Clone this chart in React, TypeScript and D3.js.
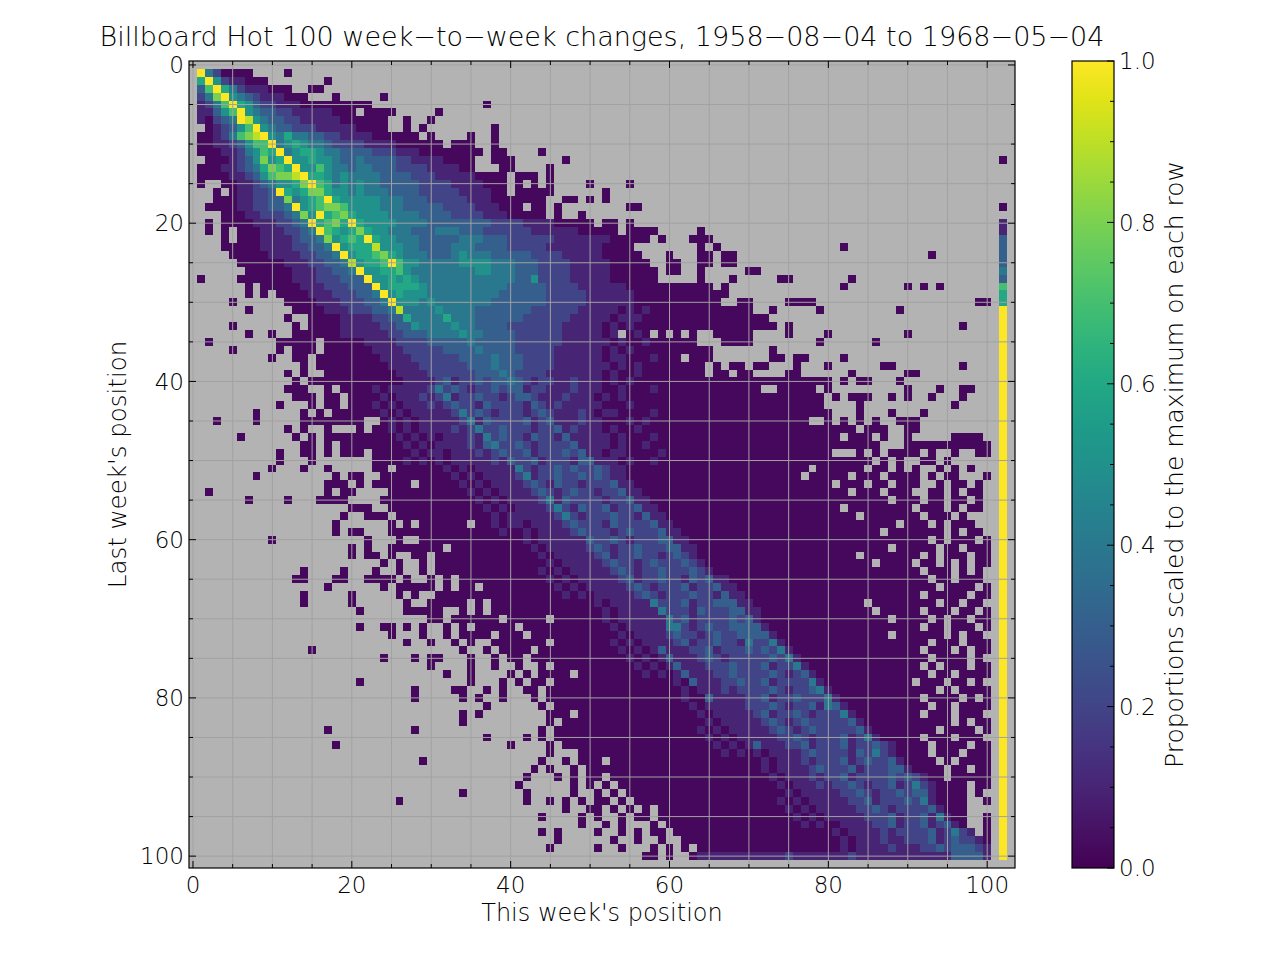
import React, { useMemo } from 'react';
import * as d3 from 'd3';

const title = 'Billboard Hot 100 week\u2212to\u2212week changes, 1958\u221208\u221204 to 1968\u221205\u221204';
const xLabel = "This week's position";
const yLabel = "Last week's position";
const colorbarLabel = 'Proportions scaled to the maximum on each row';

const xTicks = [0, 20, 40, 60, 80, 100];
const yTicks = [0, 20, 40, 60, 80, 100];
const colorTicks = [0, 0.2, 0.4, 0.6, 0.8, 1.0];

// value levels read off the colour of each cell ('.' = no song made that move)
const levelValues: Record<string, number> = {
  '0': 0.02, '1': 0.1, '2': 0.2, '3': 0.3, '4': 0.4, '5': 0.5,
  '6': 0.6, '7': 0.7, '8': 0.8, '9': 0.9, 'Y': 1.0,
};

// one string per last-week position 1..100, one char per this-week position 1..100
const transitionRows = [
  'Y420000... .0',
  '6Y5211000. ......0',
  '37Y6421110 00..00',
  '248Y543211 1000...0.. ...0',
  '1247Y65322 1110000000 00........ ......0',
  '11357Y5433 2211111000 .0000..... 0',
  '10234Y9543 3221111100 0000..0..0',
  '.012357Y54 3322211111 0000..0.0. .......0',
  '00124789Y5 4644332211 11000000.0 ....0..0',
  '001123577Y 4565443222 2111100000 0.000..0',
  '0001124576 Y456654433 3322211100 000000.00. ...0',
  '.000123585 6Y55655433 4333322111 10000..000 ......0',
  '0001123468 76Y5575443 4433322221 11100...00 ....0',
  '0000112357 889Y665454 4443333222 111110000. 000.0',
  '0..0011234 5568Y76454 5443333322 221111000. 0.0.0....0 ....0',
  '..0.011223 Y656886554 5444333322 222111100. 00000..... .0',
  '..00011223 384567Y655 5554443332 2222111000 0000..00.0 .0',
  '.000011223 34Y5678875 5554443333 3222211100 0.00.0.... ....00',
  '...0001122 23485Y6786 5555444433 3322221110 0000.0..0.',
  '.0.0000111 2234Y6786Y 6555544443 3333333222 2111100000 .00.0',
  '.0.0.00011 12234Y7656 8655444333 4443332222 2211111100 000.0000.. ...0',
  '...0.00011 1123348567 6Y65544433 3334443332 2222211111 1100000.0. ..000',
  '...0000011 1122334Y56 6695554433 3344433332 2222111111 10000..... ...0.0.... .......... .0',
  '....000001 11122334Y5 6678654443 3345444333 3322221111 100000...0 ...00.00.. .......... .......... ..0',
  '.....00000 0111223349 5667Y75544 4445555444 3332222111 1100000..0 0..00.00..',
  '......0000 0011122334 Y556675444 4444455444 3332222111 11000000.0 0..0.....0 0',
  '0....00000 0011122233 3Y55656544 4444444444 3352222111 11000000.. ...0...0.. ...00..... ..0',
  '......0.00 0001112223 33Y5666654 4444444443 3333222211 1111000000 00000.0... .......... .0.......0 .0.0',
  '......0.0. 0000111222 334Y565554 4444444433 3333222221 1111100000 0000000...',
  '....0..... .000011122 2334Y55545 4444444333 3333222221 1111100000 000000..00 ....0000.. .......... ........00',
  '......0... ..00001112 2233494444 5444433333 3322222211 1110101000 0000000000 ..0.....0. ........0.',
  '.......... .0..000011 1122336444 4644433333 3222222111 1101110000 0000000000 00',
  '....0..... ..0.000011 1112233544 4454433332 2222221111 1010100000 0000000000 000.0..... .......... ......0',
  '......0..0 ..00000011 1111223334 4445443333 2222221111 101.010.0. 0.0..00000 ....0....0 .........0',
  '.0........ 00000.0000 0111122223 3333433333 2222221111 1101001000 000...0000 ........0. .....0',
  '....0..... 0.000.0000 0011112222 2333343333 2222211111 1010100000 00000..... ..0',
  '.........0 ..00.00000 0001111222 2223333433 3222211111 1011000100 0.000..... ..00.00... .0',
  '.......... ...0.00000 0000111122 2222333433 3222211111 1101010000 0000.0.00. 00...0...0 ......00.. ......0',
  '.......... .0.0..0000 0000011112 2222233343 2222111111 1010010000 0000.00.00 ....00.... ..0......0 0',
  '.......... ..0.000000 0000001111 2312232334 3212211211 1010100000 0000000000 0000000000 .0.00...0.',
  '.......... .000..0.00 0010111112 4232122323 3122111211 1001000100 0000000000 0..00000.0 .........0 ...0..00',
  '.......... ..000.00.0 0001011121 2412232212 3321112111 0101000000 0000000000 000000000. 0.000..0.0 ..0...0',
  '.......... 0...0.00.0 0010101112 1232213222 2132121111 1000100000 0000000000 000000000. ...0...... .....0',
  '.......0.. ...0.0.000 0001010111 1124232122 2123211121 0110000100 0000000000 0000000000 ...0...0.. .0',
  '..0....0.. ...0000000 0..0101011 1112413222 2312311121 1000101000 0000000000 0000000..0 .0.0.0..00 0',
  '.......... .0.0..0... 0.00101011 1121242232 2212231211 1010010000 0000000000 0000000000 000.000..0 0',
  '.....0.... ..0.0.0000 0000010101 0111214232 2132213111 1101000100 0000000000 0000000000 0.000.0..0 .....0000',
  '.......... ...00.0.00 0000001010 1111213422 3212222311 1101001000 0000000000 0000000000 000000...0 0000000000',
  '.......... 0..00.0.00 0.00000101 1011121232 2312223231 1011000010 0000000000 0000000000 ...0.0.000 0.0..0..00',
  '.......... 0...0..... ..00001010 1011111213 2231222133 1110100100 0000000000 0000000000 00000.0.0. .00.0',
  '.........0 ...0..0... ..00.00000 0101011111 4212232322 3211000000 0000000000 0000000.00 0000.00.0. 0..0.0.0',
  '.......0.. .......0.0 0..0000000 0010101111 2412232232 3211000000 0000000000 000000.000 00.000.000 0.0.00...0',
  '.......... ......000. 0.00000.00 0001010111 1232132212 2231100000 0000000000 0000000000 .000.00.00 0..0.00.0',
  '.0........ ......0.00 ....000000 0000101011 1123212322 1223110000 0000000000 0000000000 00.000.000 ..00.0.00',
  '......0... .0...0000. ...0000000 0000010101 1112413222 2122311000 0000000000 0000000000 0000000.00 0.00.00.0',
  '.......... .........0 00..000000 0000001010 1111242132 2312231100 0000000000 0000000000 0.00000000 .000.0.00',
  '.......... ........0. .000.00000 0000000101 1111124212 2232213110 0000000000 0000000000 000.000000 0.000.0',
  '.......... .......0.. ....0.0.00 0000.00101 1011112322 2132222311 0000000000 0000000000 00000000.0 00.0.000',
  '.......... .......0.0 0...000000 0000000010 0101111232 2212322231 1000000000 0000000000 000000.000 0000.0.00',
  '.........0 .......... .0...0..00 0000000000 0101111113 2232122233 1100000000 0000000000 0000000000 00.0.000.0',
  '.......... .........0 .0..000000 0.00000000 0010111112 3212232223 3110000000 0000000000 0000000.00 000.00.000',
  '.......... .........0 .00.0..00. 0000000000 0001011111 2312232212 3210000000 0000000000 000.000000 0.0.000.00',
  '.......... .......... ...0.0..0. 0000000000 0000101111 1232212322 2321000000 0000000000 00000.0000 .00.0.0.00',
  '.......... ...0....0. ..0..0..0. 0000000000 0001010111 1123212232 2232100000 0000000000 0000000000 0.000.0.0',
  '.......... ..00...00. .0000.0..0 .0.0000000 0000101011 1112312232 2132311000 0000000000 0000000000 00.00.000',
  '.......... ......0... ...0.00000 .0.00.0000 0000010101 1111232122 2312231100 0000000000 0000000000 000.0000.0',
  '.......... ...0.....0 .....0.0.. 0000000000 0000001010 1111123212 2232213110 0000000000 0000000000 0.00000.00',
  '.......... ...0.....0 ......0..0 0000.0.000 0000000000 1011111422 2312233311 0000000000 0000.00000 000.00.00',
  '.......... .......... 0.....0000 0..0.0.000 0000000000 0101111142 2213222331 1000000000 00000.0000 0.000.00.0',
  '.......... .......... .........0 0.000000.0 0000.00000 0101111114 2312222323 1000000000 0000000.00 00.0.00.00',
  '.......... .......... 0..00.0.0. .0.0.00000 .000000000 0010111114 4212322333 3100000000 0000000000 0.00.000.0',
  '.......... .......... ....0...0. .0.0000.00 0.00000000 0001011112 3221232233 3310000000 0000000.00 0000.0.00',
  '.......... .......... ......0..0 ..0.0..000 0000.00000 0010101111 2312232214 2241000000 0000000000 00.000.000',
  '.......... ....0..... .......... ...0..0.00 00.0000000 0001010131 1122312223 2324100000 0000000000 0.000.0.00',
  '.......... .......... ...0...0.0 0...0..0.0 0.00000000 0000101013 1112321222 2232410000 0000000000 00.0000.0',
  '.......... .......... .........0 ....0..0.. 0..0.00000 0000010101 3111222322 2312241000 0000000000 0.0.000.00',
  '.......... .......... .......... .0..0....0 .0.0000.00 0000001010 1311122322 2232123100 0000000000 00.00.0000',
  '.......... .......... 0......... ....0...0. 0.00.00000 0000000000 1031112232 2312222410 0000000000 .000.00.0',
  '.......... .......... .......0.. ..00..0.0. .00.000000 0000000000 0101112122 2232122341 0000000000 000.0.0000',
  '.......... .......... .......0.. ...0.0..0. ..0.000000 0000000000 0100311112 2312232224 1000000000 0.0000.0.0',
  '.......... .......... .......... ......0... ...0.00000 0000000000 0010111112 2232122314 3100000000 00.00.0000',
  '.......... .......... .......... ...0.0.... ....000.00 0000000000 0001011111 2312232122 2410000000 0.000.000',
  '.......... .......... .......... ...0...... ....0.0000 0000000000 0000101111 1232123222 2231000000 00000.0.00',
  '.......... ......0... .......0.. .......... ...0.00000 0000000000 0001010111 1123212322 2223100000 000.0000.0',
  '.......... .......... .......... ......0... .0.0.00000 0000000000 0000101011 1112232122 2312410000 0.000.000',
  '.......... .......0.. .......... .........0 ....0.0000 0000000000 0000010101 3111223122 2312232100 00.0000.00',
  '.......... .......... .......... .......... ....0...00 0000000000 0000001010 1011112322 2213242100 00.000.000',
  '.......... .......... ........0. .......... ...0..0.00 0.00000000 0000000000 0101112122 2312322310 000.0.0000',
  '.......... .......... .......... .......... ..0.0..0.0 0000000000 0000000000 0101111232 2231222331 0000.00.00',
  '.......... .......... .......... .......... .0...0.0.0 0.00000000 0000000000 0010111212 2312222323 2100.00000',
  '.......... .......... .......... .......... 0......0.0 .0.0000000 0000000000 0001011121 2232122312 4210000.00',
  '.......... .......... .......... ...0...... .0.....0.. 0.0.000000 0000000000 0000101111 1223212232 3310000.0',
  '.......... .......... .....0.... .......... .0..0.0.0. 00.0.00000 0000000000 0001010111 1122312223 2410000..0',
  '.......... .......... .......... .......... ......0..0 0.0.0.0.00 0000000000 0000101011 1112232122 2231000',
  '.......... .......... .......... .......... ...0....0. 0..0.00.00 0000000000 0000010101 1111222312 2314100..0',
  '.......... .......... .......... .......... ........0. .0.0...0.0 0000000000 0000001010 0111122312 2312310..0',
  '.......... .......... .......... .......... ...0.0.... 0..0.0.00. 0000000000 0000000000 1011112122 22312421.0',
  '.......... .......... .......... .......... .....0.... ..0..0..0. .000000000 0000000000 0101112112 2231232210',
  '.......... .......... .......... .......... ....0..... 0..0...0.0 .0.0000000 0000000000 0101111211 1223233321',
  '.......... .......... .......... .......... .......... ......00.0 ..01111111 1111211111 1121111111 1111133331',
];

// column 102 (dropped off the chart), one char per last-week position 1..100
const dropoutColumn =
  '.......... .0.....0.1 1333343766 YYYYYYYYYY YYYYYYYYYY YYYYYYYYYY YYYYYYYYYY YYYYYYYYYY YYYYYYYYYY YYYYYYYYYY';

const DROPOUT_POS = 102;

interface Cell { r: number; c: number; v: number; }

const FONT = "'DejaVu Sans', Lato, sans-serif";

const App: React.FC = () => {
  const plot = { left: 189, right: 1015, top: 61, bottom: 868 };
  const cbar = { left: 1072, right: 1114, top: 61, bottom: 868 };

  const x = d3.scaleLinear().domain([-0.5, 103.5]).range([plot.left, plot.right]);
  const y = d3.scaleLinear().domain([-0.5, 101.5]).range([plot.top, plot.bottom]);
  const cy = d3.scaleLinear().domain([0, 1]).range([cbar.bottom, cbar.top]);

  const cells = useMemo(() => {
    const out: Cell[] = [];
    const drop = dropoutColumn.replace(/ /g, '');
    transitionRows.forEach((row, i) => {
      const s = row.replace(/ /g, '').padEnd(100, '.').slice(0, 100);
      for (let j = 0; j < 100; j++) {
        const v = levelValues[s[j]];
        if (v !== undefined) out.push({ r: i + 1, c: j + 1, v });
      }
      const dv = levelValues[drop[i]];
      if (dv !== undefined) out.push({ r: i + 1, c: DROPOUT_POS, v: dv });
    });
    return out;
  }, []);

  const gridVals = d3.range(0, 101, 5);
  const minorVals = gridVals.filter(v => v % 20 !== 0);
  const cbMinor = d3.range(0, 1.0001, 0.05).filter(v => Math.abs(v * 5 - Math.round(v * 5)) > 1e-6);
  const gradStops = d3.range(0, 1.0001, 0.05);

  const majorLen = 7;
  const minorLen = 4;
  const midX = (plot.left + plot.right) / 2;
  const midY = (plot.top + plot.bottom) / 2;

  return (
    <svg
      width={1280}
      height={960}
      style={{ position: 'absolute', left: 0, top: 0, display: 'block' }}
      fontFamily={FONT}
      fontWeight={300}
    >
      <defs>
        <linearGradient id="viridisBar" x1="0" y1="0" x2="0" y2="1">
          {gradStops.map(t => (
            <stop key={t} offset={`${t * 100}%`} stopColor={d3.interpolateViridis(1 - t)} />
          ))}
        </linearGradient>
      </defs>

      <rect x={0} y={0} width={1280} height={960} fill="#fff" />

      {/* heatmap */}
      <rect x={plot.left} y={plot.top} width={plot.right - plot.left} height={plot.bottom - plot.top} fill="#b3b3b3" />
      <g shapeRendering="crispEdges">
        {cells.map(d => (
          <rect
            key={`${d.r}-${d.c}`}
            x={x(d.c - 0.5)}
            y={y(d.r - 0.5)}
            width={x(d.c + 0.5) - x(d.c - 0.5)}
            height={y(d.r + 0.5) - y(d.r - 0.5)}
            fill={d3.interpolateViridis(d.v)}
          />
        ))}
      </g>

      {/* grid */}
      <g stroke="#a2a2a2" strokeWidth={1}>
        {gridVals.map(v => (
          <line key={`gx${v}`} x1={x(v)} x2={x(v)} y1={plot.top} y2={plot.bottom} />
        ))}
        {gridVals.map(v => (
          <line key={`gy${v}`} x1={plot.left} x2={plot.right} y1={y(v)} y2={y(v)} />
        ))}
      </g>

      {/* ticks, inward on all sides */}
      <g stroke="#000" strokeWidth={1}>
        {xTicks.map(v => (
          <g key={`xt${v}`}>
            <line x1={x(v)} x2={x(v)} y1={plot.bottom} y2={plot.bottom - majorLen} />
            <line x1={x(v)} x2={x(v)} y1={plot.top} y2={plot.top + majorLen} />
          </g>
        ))}
        {minorVals.map(v => (
          <g key={`xm${v}`}>
            <line x1={x(v)} x2={x(v)} y1={plot.bottom} y2={plot.bottom - minorLen} />
            <line x1={x(v)} x2={x(v)} y1={plot.top} y2={plot.top + minorLen} />
          </g>
        ))}
        {yTicks.map(v => (
          <g key={`yt${v}`}>
            <line x1={plot.left} x2={plot.left + majorLen} y1={y(v)} y2={y(v)} />
            <line x1={plot.right} x2={plot.right - majorLen} y1={y(v)} y2={y(v)} />
          </g>
        ))}
        {minorVals.map(v => (
          <g key={`ym${v}`}>
            <line x1={plot.left} x2={plot.left + minorLen} y1={y(v)} y2={y(v)} />
            <line x1={plot.right} x2={plot.right - minorLen} y1={y(v)} y2={y(v)} />
          </g>
        ))}
      </g>
      <rect x={plot.left} y={plot.top} width={plot.right - plot.left} height={plot.bottom - plot.top} fill="none" stroke="#000" strokeWidth={1.2} />

      {/* tick labels */}
      <g fontSize={23} fill="#000">
        {xTicks.map(v => (
          <text key={`xl${v}`} x={x(v)} y={plot.bottom + 25} textAnchor="middle">{v}</text>
        ))}
        {yTicks.map(v => (
          <text key={`yl${v}`} x={plot.left - 5} y={y(v)} dy="0.36em" textAnchor="end">{v}</text>
        ))}
      </g>

      {/* titles */}
      <text x={midX} y={46} textAnchor="middle" fontSize={27}>{title}</text>
      <text x={midX} y={921} textAnchor="middle" fontSize={24}>{xLabel}</text>
      <text transform={`translate(126, ${midY}) rotate(-90)`} textAnchor="middle" fontSize={24.5}>{yLabel}</text>

      {/* colour bar */}
      <rect x={cbar.left} y={cbar.top} width={cbar.right - cbar.left} height={cbar.bottom - cbar.top} fill="url(#viridisBar)" />
      <g stroke="#000" strokeWidth={1}>
        {colorTicks.map(v => (
          <line key={`ct${v}`} x1={cbar.right} x2={cbar.right - majorLen} y1={cy(v)} y2={cy(v)} />
        ))}
        {cbMinor.map(v => (
          <line key={`cm${v}`} x1={cbar.right} x2={cbar.right - minorLen} y1={cy(v)} y2={cy(v)} />
        ))}
      </g>
      <rect x={cbar.left} y={cbar.top} width={cbar.right - cbar.left} height={cbar.bottom - cbar.top} fill="none" stroke="#000" strokeWidth={1.2} />
      <g fontSize={23} fill="#000">
        {colorTicks.map(v => (
          <text key={`cl${v}`} x={cbar.right + 5} y={cy(v)} dy="0.36em">{v.toFixed(1)}</text>
        ))}
      </g>
      <text transform={`translate(1183, ${midY}) rotate(-90)`} textAnchor="middle" fontSize={25}>{colorbarLabel}</text>
    </svg>
  );
};

export default App;
